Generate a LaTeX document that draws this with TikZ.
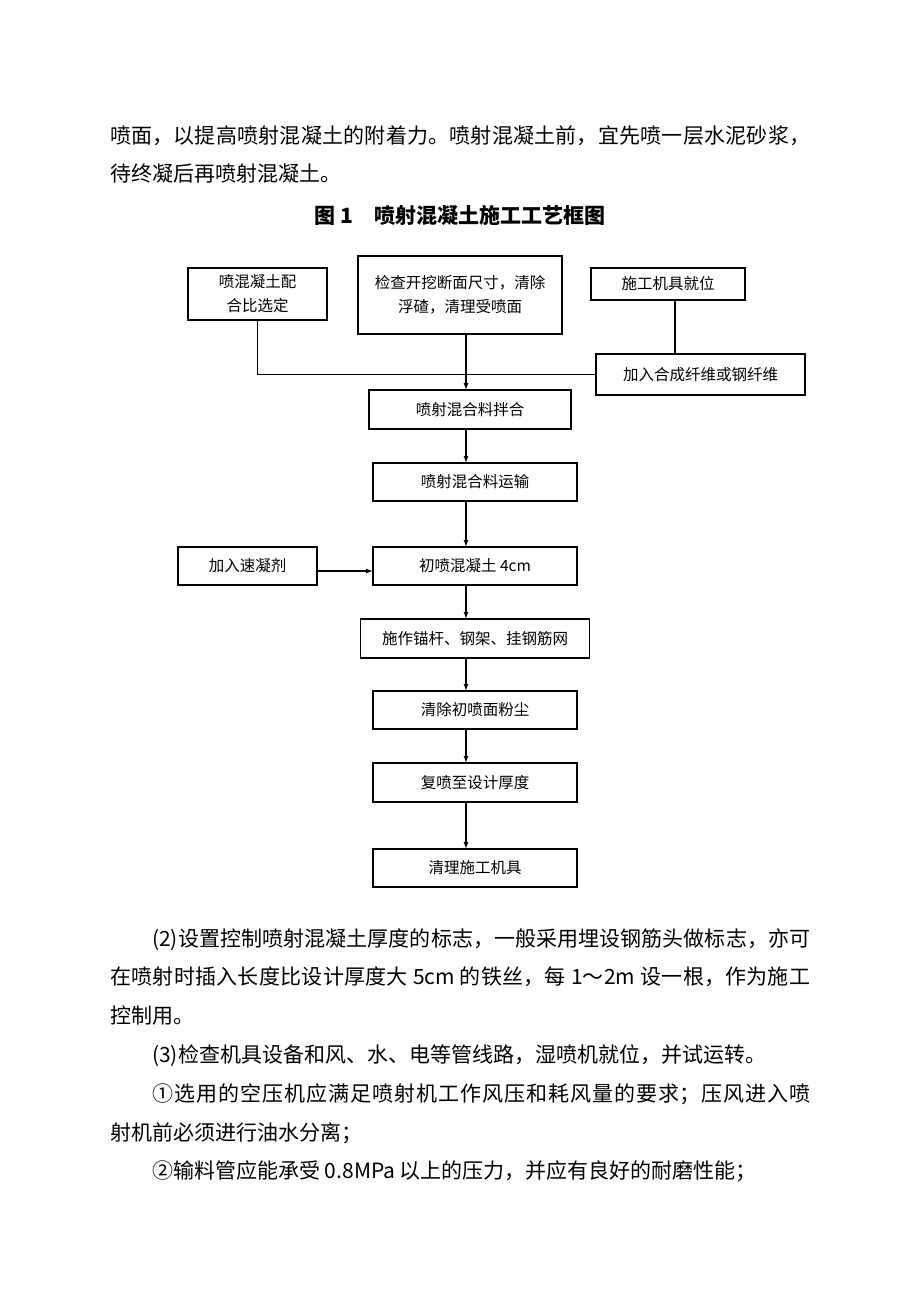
\documentclass[tikz,border=0pt]{standalone}
\usepackage{fontspec}
\setmainfont{Noto Sans CJK SC}
\usepackage{tikz}
\usetikzlibrary{positioning, arrows.meta}

\XeTeXlinebreaklocale "zh"
\XeTeXlinebreakskip = 0pt plus 1.5pt minus 0.3pt

\newcommand{\bodyfont}{\fontsize{21}{38.8}\selectfont}
\newcommand{\boxfont}{\fontsize{15.5}{24}\selectfont}

\begin{document}
\begin{tikzpicture}[
    x=1pt, y=-1pt,
    stepbox/.style={draw, line width=1.6pt, minimum width=204pt, minimum height=38pt, inner sep=0pt, outer sep=0pt, align=center, font=\boxfont},
    myarrow/.style={-{Latex[length=7pt, width=5pt]}, line width=1.3pt},
    myline/.style={line width=1.3pt},
    bodytext/.style={text width=700pt, align=justify, inner sep=0pt, font=\bodyfont},
    titletext/.style={inner sep=0pt, font=\bodyfont\bfseries}
]

  \useasboundingbox[fill=white] (0,0) rectangle (920,1302);

  % Text
  \node[bodytext, anchor=base west] (para1) at (110,143)
    {喷面，以提高喷射混凝土的附着力。喷射混凝土前，宜先喷一层水泥砂浆，\linebreak 待终凝后再喷射混凝土。};
  \node[titletext, anchor=base] (title) at (460,223) {图 1\quad 喷射混凝土施工工艺框图};

  % Nodes
  \node[stepbox, minimum width=139pt, minimum height=52pt] (mix) at (257.5,294) {喷混凝土配\\合比选定};
  \node[stepbox, minimum height=78pt] (check) at (460,295) {检查开挖断面尺寸，清除\\浮碴，清理受喷面};
  \node[stepbox, minimum width=154pt, minimum height=32pt] (tools) at (668,284) {施工机具就位};
  \node[stepbox, minimum width=209pt, minimum height=41pt] (fiber) at (700.5,374.5) {加入合成纤维或钢纤维};
  \node[stepbox, minimum width=202pt, minimum height=39pt] (stir) at (470,409.5) {喷射混合料拌合};
  \node[stepbox] (haul) at (475,482) {喷射混合料运输};
  \node[stepbox, below=46pt of haul] (first) {初喷混凝土 4cm};
  \node[stepbox, minimum width=139pt] (accel) at (247.5,566) {加入速凝剂};
  \node[stepbox, minimum width=229pt, minimum height=39pt, below=34pt of first] (bolt) {施作锚杆、钢架、挂钢筋网};
  \node[stepbox, below=33pt of bolt] (dust) {清除初喷面粉尘};
  \node[stepbox, minimum height=39pt, below=34pt of dust] (again) {复喷至设计厚度};
  \node[stepbox, below=47pt of again] (clean) {清理施工机具};

  \coordinate (spine) at (466,0);

  % Arrows
  \draw[myline] (mix.south) |- (fiber.west);
  \draw[myline] ([xshift=7pt]tools.south) -- ([xshift=7pt]tools.south |- fiber.north);
  \draw[myarrow] (check.south -| spine) -- (stir.north -| spine);
  \draw[myarrow] (stir.south -| spine) -- (haul.north -| spine);
  \draw[myarrow] (haul.south -| spine) -- (first.north -| spine);
  \draw[myarrow] ([yshift=-5pt]accel.east) -- ([yshift=-5pt]accel.east -| first.west);
  \draw[myarrow] (first.south -| spine) -- (bolt.north -| spine);
  \draw[myarrow] (bolt.south -| spine) -- (dust.north -| spine);
  \draw[myarrow] (dust.south -| spine) -- (again.north -| spine);
  \draw[myarrow] (again.south -| spine) -- (clean.north -| spine);

  % Text
  \node[bodytext, anchor=base west] (para2) at (110,946)
    {\hspace*{2em}(2)设置控制喷射混凝土厚度的标志，一般采用埋设钢筋头做标志，亦可\linebreak 在喷射时插入长度比设计厚度大 5cm 的铁丝，每 1～2m 设一根，作为施工\linebreak 控制用。\par
     \hspace*{2em}(3)检查机具设备和风、水、电等管线路，湿喷机就位，并试运转。\par
     \hspace*{2em}①选用的空压机应满足喷射机工作风压和耗风量的要求；压风进入喷\linebreak 射机前必须进行油水分离；\par
     \hspace*{2em}②输料管应能承受 0.8MPa 以上的压力，并应有良好的耐磨性能；};

\end{tikzpicture}
\end{document}
